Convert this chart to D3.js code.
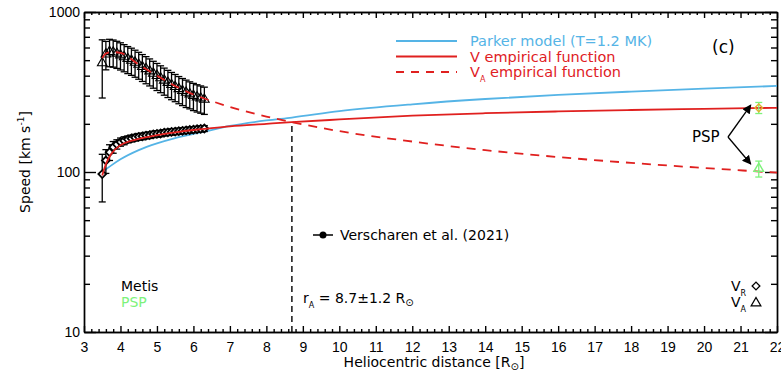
<!DOCTYPE html>
<html>
<head>
<meta charset="utf-8">
<script src="https://cdn.jsdelivr.net/npm/d3@7"></script>
<style>
  body { margin: 0; background: #fff; }
  svg { display: block; font-family: "DejaVu Sans", sans-serif; }
  .axis path, .axis line { stroke: #000; stroke-width: 1.4; }
  .axis text { font-size: 14px; fill: #000; }
</style>
</head>
<body>
<div id="chart"></div>
<script>
// Metis measurements (radius in solar radii, speeds in km/s)
const metisR = [3.5, 3.6, 3.7, 3.8, 3.9, 4.0, 4.1, 4.2, 4.3, 4.4, 4.5, 4.6, 4.7, 4.8, 4.9,
                5.0, 5.1, 5.2, 5.3, 5.4, 5.5, 5.6, 5.7, 5.8, 5.9, 6.0, 6.1, 6.2, 6.3];
const metisV = [97, 118, 133, 143, 149, 154, 157, 160, 162, 164, 166, 167, 169, 170, 172,
                173, 174, 176, 177, 178, 179, 180, 181, 182, 183, 184, 185, 186, 187];
const metisVErr = [32, 20, 15, 12, 10, 9, 9, 8, 8, 8, 8, 8, 8, 8, 8,
                   8, 8, 8, 8, 8, 8, 8, 8, 8, 8, 8, 8, 8, 8];
const metisVA = [480, 545, 565, 560, 550, 538, 524, 510, 498, 484, 470, 455, 441, 427, 413,
                 400, 387, 374, 362, 351, 341, 331, 322, 314, 307, 300, 294, 289, 284];
const metisVAErr = [190, 110, 110, 108, 106, 104, 101, 98, 96, 93, 90, 87, 85, 82, 79,
                    77, 74, 72, 70, 68, 66, 64, 62, 61, 59, 58, 57, 56, 55];

// PSP points
const pspR = [21.5];
const pspV = [252];
const pspVErr = [20];
const pspVA = [105];
const pspVAErr = [12];

// model curves sampled at these radii
const curveR = [3.5, 3.6, 3.75, 4, 4.5, 5, 5.5, 6, 6.3, 7, 8, 8.7, 10, 12, 14, 16, 18, 20, 22];
const parker = [100, 104, 110, 120, 137, 151, 163, 173, 179, 194, 210, 219, 240, 265, 286, 303, 318, 332, 345];
const vEmp   = [95, 112, 130, 147, 161, 170, 177, 183, 186, 193, 200, 205, 213, 225, 233, 239, 244, 248, 252];
const vaEmp  = [515, 550, 562, 555, 470, 400, 345, 305, 288, 255, 222, 205, 180, 155, 137, 124, 114, 106, 99];

const rAlfven = 8.7;
const xTicks = d3.range(3, 23);
const yMajor = [10, 100, 1000];
const yMinor = [20, 30, 40, 50, 60, 70, 80, 90, 200, 300, 400, 500, 600, 700, 800, 900];

const W = 781, H = 375;
const blue = "#55b4e6", red = "#e0201f", green = "#7df27a";

const svg = d3.select("#chart").append("svg")
    .attr("width", W).attr("height", H);
svg.append("rect").attr("width", W).attr("height", H).attr("fill", "#fff");

const x = d3.scaleLinear().domain([3, 22]).range([84, 777]);
const y = d3.scaleLog().domain([10, 1000]).range([332, 12]);

const defs = svg.append("defs");
defs.append("clipPath").attr("id", "clip")
    .append("rect").attr("x", 84).attr("y", 12).attr("width", 693).attr("height", 320);
defs.append("marker").attr("id", "arrow")
    .attr("viewBox", "0 0 10 10").attr("refX", 9).attr("refY", 5)
    .attr("markerWidth", 7).attr("markerHeight", 7).attr("orient", "auto")
    .append("path").attr("d", "M0,0L10,5L0,10z").attr("fill", "#000");

// axes
const minorX = d3.range(3, 22.01, 0.2).filter(v => Math.abs(v - Math.round(v)) > 0.01);

svg.append("g").attr("class", "axis").attr("transform", "translate(0,332)")
    .call(d3.axisBottom(x).tickValues(xTicks).tickSize(-6).tickSizeOuter(0).tickPadding(10).tickFormat(d3.format("d")));
svg.append("g").attr("class", "axis").attr("transform", "translate(0,332)")
    .call(d3.axisBottom(x).tickValues(minorX).tickSize(-3).tickSizeOuter(0).tickFormat(""));
svg.append("g").attr("class", "axis").attr("transform", "translate(0,12)")
    .call(d3.axisTop(x).tickValues(xTicks).tickSize(-6).tickSizeOuter(0).tickFormat(""));
svg.append("g").attr("class", "axis").attr("transform", "translate(0,12)")
    .call(d3.axisTop(x).tickValues(minorX).tickSize(-3).tickSizeOuter(0).tickFormat(""));

svg.append("g").attr("class", "axis").attr("transform", "translate(84,0)")
    .call(d3.axisLeft(y).tickValues(yMajor).tickSize(-12).tickSizeOuter(0).tickPadding(4).tickFormat(d3.format("d")));
svg.append("g").attr("class", "axis").attr("transform", "translate(84,0)")
    .call(d3.axisLeft(y).tickValues(yMinor).tickSize(-6).tickSizeOuter(0).tickFormat(""));
svg.append("g").attr("class", "axis").attr("transform", "translate(777,0)")
    .call(d3.axisRight(y).tickValues(yMajor).tickSize(-12).tickSizeOuter(0).tickFormat(""));
svg.append("g").attr("class", "axis").attr("transform", "translate(777,0)")
    .call(d3.axisRight(y).tickValues(yMinor).tickSize(-6).tickSizeOuter(0).tickFormat(""));

// axis titles
const xt = svg.append("text").attr("x", 434).attr("y", 367)
    .attr("text-anchor", "middle").attr("font-size", 14).text("Heliocentric distance [R");
xt.append("tspan").attr("font-size", 10).attr("dy", 3).text("\u2299");
xt.append("tspan").attr("dy", -3).text("]");

const yt = svg.append("text").attr("transform", "translate(30,162) rotate(-90)")
    .attr("text-anchor", "middle").attr("font-size", 14).text("Speed [km s");
yt.append("tspan").attr("font-size", 9).attr("dy", -6).text("-1");
yt.append("tspan").attr("dy", 6).text("]");

const plot = svg.append("g").attr("clip-path", "url(#clip)");

// Alfven radius marker
plot.append("line")
    .attr("x1", x(rAlfven)).attr("x2", x(rAlfven))
    .attr("y1", y(10)).attr("y2", y(vEmp[curveR.indexOf(rAlfven)]))
    .attr("stroke", "#000").attr("stroke-width", 1.4).attr("stroke-dasharray", "6,4");

// model curves
const line = (vals) => d3.line().x((d, i) => x(curveR[i])).y(d => y(d)).curve(d3.curveMonotoneX)(vals);
plot.append("path").attr("d", line(parker)).attr("fill", "none").attr("stroke", blue).attr("stroke-width", 1.8);

// error bars helper
function errorBars(g, rs, vs, es, color, cap) {
  rs.forEach((r, i) => {
    const x0 = x(r), y1 = y(vs[i] + es[i]), y2 = y(vs[i] - es[i]);
    g.append("line").attr("x1", x0).attr("x2", x0).attr("y1", y1).attr("y2", y2)
        .attr("stroke", color).attr("stroke-width", 1.3);
    [y1, y2].forEach(yy => g.append("line").attr("x1", x0 - cap).attr("x2", x0 + cap)
        .attr("y1", yy).attr("y2", yy).attr("stroke", color).attr("stroke-width", 1.3));
  });
}

const metis = plot.append("g");
errorBars(metis, metisR, metisVA, metisVAErr, "#000", 3.5);
errorBars(metis, metisR, metisV, metisVErr, "#000", 3.5);

const tri = d3.symbol().type(d3.symbolTriangle).size(40);
const dia = d3.symbol().type(d3.symbolSquare).size(30);

metis.selectAll(".va").data(metisR).join("path")
    .attr("transform", (d, i) => `translate(${x(d)},${y(metisVA[i])})`)
    .attr("d", tri).attr("fill", "none").attr("stroke", "#000").attr("stroke-width", 1.1);
metis.selectAll(".v").data(metisR).join("path")
    .attr("transform", (d, i) => `translate(${x(d)},${y(metisV[i])}) rotate(45)`)
    .attr("d", dia).attr("fill", "#fff").attr("stroke", "#000").attr("stroke-width", 1.8);

plot.append("path").attr("d", line(vEmp)).attr("fill", "none").attr("stroke", red).attr("stroke-width", 1.8);
plot.append("path").attr("d", line(vaEmp)).attr("fill", "none").attr("stroke", red)
    .attr("stroke-width", 1.8).attr("stroke-dasharray", "9,7");

// PSP
const psp = plot.append("g");
errorBars(psp, pspR, pspV, pspVErr, green, 3.5);
errorBars(psp, pspR, pspVA, pspVAErr, green, 3.5);
psp.selectAll(".pv").data(pspR).join("path")
    .attr("transform", (d, i) => `translate(${x(d)},${y(pspV[i])}) rotate(45)`)
    .attr("d", dia).attr("fill", "none").attr("stroke", "#e0b030").attr("stroke-width", 1.4);
psp.selectAll(".pa").data(pspR).join("path")
    .attr("transform", (d, i) => `translate(${x(d)},${y(pspVA[i])})`)
    .attr("d", tri).attr("fill", "none").attr("stroke", green).attr("stroke-width", 1.4);

svg.append("text").attr("x", 692).attr("y", 142).attr("font-size", 15).text("PSP");
[pspV[0] + pspVErr[0] * 0.5, pspVA[0] + pspVAErr[0] * 0.6].forEach(v => {
  svg.append("line").attr("x1", 728).attr("y1", 137)
      .attr("x2", x(pspR[0]) - 8).attr("y2", y(v))
      .attr("stroke", "#000").attr("stroke-width", 1.3).attr("marker-end", "url(#arrow)");
});

// legend
const legend = [
  {label: "Parker model (T=1.2 MK)", color: blue, dash: null, sub: null},
  {label: "V empirical function", color: red, dash: null, sub: null},
  {label: "V", color: red, dash: "8,7", sub: "A"}
];
legend.forEach((d, i) => {
  const yy = 41 + i * 15.5;
  svg.append("line").attr("x1", 396).attr("x2", 457).attr("y1", yy).attr("y2", yy)
      .attr("stroke", d.color).attr("stroke-width", 1.8).attr("stroke-dasharray", d.dash);
  const t = svg.append("text").attr("x", 470).attr("y", yy + 5).attr("font-size", 14.5)
      .attr("fill", d.color).text(d.label);
  if (d.sub) {
    t.append("tspan").attr("font-size", 8).attr("dy", 5).text(d.sub);
    t.append("tspan").attr("dy", -5).text(" empirical function");
  }
});

svg.append("text").attr("x", 712).attr("y", 53).attr("font-size", 17).text("(c)");

// Verscharen legend
svg.append("line").attr("x1", 313).attr("x2", 333).attr("y1", 235).attr("y2", 235)
    .attr("stroke", "#000").attr("stroke-width", 1.5);
svg.append("circle").attr("cx", 323).attr("cy", 235).attr("r", 3.5).attr("fill", "#000");
svg.append("text").attr("x", 340).attr("y", 240).attr("font-size", 14).text("Verscharen et al. (2021)");

// r_A annotation
const ra = svg.append("text").attr("x", 303).attr("y", 303).attr("font-size", 14).text("r");
ra.append("tspan").attr("font-size", 8).attr("dy", 5).text("A");
ra.append("tspan").attr("dy", -5).text(" = 8.7\u00b11.2 R");
ra.append("tspan").attr("font-size", 10).attr("dy", 3).text("\u2299");

svg.append("text").attr("x", 121).attr("y", 291).attr("font-size", 14).text("Metis");
svg.append("text").attr("x", 121).attr("y", 307).attr("font-size", 14).attr("fill", green).text("PSP");

// symbol key
const k1 = svg.append("text").attr("x", 731).attr("y", 291).attr("font-size", 14).text("V");
k1.append("tspan").attr("font-size", 8).attr("dy", 5).text("R");
const k2 = svg.append("text").attr("x", 731).attr("y", 307).attr("font-size", 14).text("V");
k2.append("tspan").attr("font-size", 8).attr("dy", 5).text("A");
svg.append("path").attr("transform", "translate(756,286) rotate(45)").attr("d", dia)
    .attr("fill", "none").attr("stroke", "#000").attr("stroke-width", 1.3);
svg.append("path").attr("transform", "translate(756,303)").attr("d", tri)
    .attr("fill", "none").attr("stroke", "#000").attr("stroke-width", 1.3);
</script>
</body>
</html>
